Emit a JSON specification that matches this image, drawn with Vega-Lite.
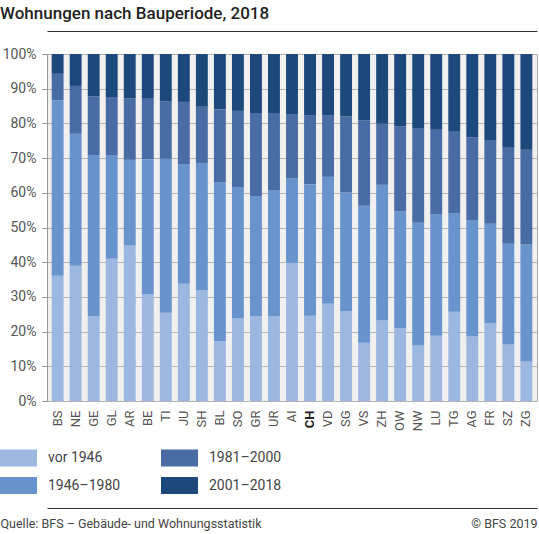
{
  "$schema": "https://vega.github.io/schema/vega-lite/v6.json",
  "autosize": "none",
  "width": 490,
  "height": 347,
  "padding": {"left": 47, "top": 54, "right": 2, "bottom": 133},
  "background": "white",
  "title": {
    "text": "Wohnungen nach Bauperiode, 2018",
    "anchor": "start",
    "frame": "group",
    "dx": -47,
    "offset": 8,
    "font": "Roboto",
    "fontSize": 17,
    "fontWeight": 500,
    "color": "#222222"
  },
  "data": {
    "values": [
      {"Kanton": "BS", "Bauperiode": "vor 1946", "Rang": 1, "Anteil": 36.1},
      {"Kanton": "BS", "Bauperiode": "1946–1980", "Rang": 2, "Anteil": 50.6},
      {"Kanton": "BS", "Bauperiode": "1981–2000", "Rang": 3, "Anteil": 7.6},
      {"Kanton": "BS", "Bauperiode": "2001–2018", "Rang": 4, "Anteil": 5.7},
      {"Kanton": "NE", "Bauperiode": "vor 1946", "Rang": 1, "Anteil": 39.0},
      {"Kanton": "NE", "Bauperiode": "1946–1980", "Rang": 2, "Anteil": 38.0},
      {"Kanton": "NE", "Bauperiode": "1981–2000", "Rang": 3, "Anteil": 13.8},
      {"Kanton": "NE", "Bauperiode": "2001–2018", "Rang": 4, "Anteil": 9.2},
      {"Kanton": "GE", "Bauperiode": "vor 1946", "Rang": 1, "Anteil": 24.5},
      {"Kanton": "GE", "Bauperiode": "1946–1980", "Rang": 2, "Anteil": 46.4},
      {"Kanton": "GE", "Bauperiode": "1981–2000", "Rang": 3, "Anteil": 16.9},
      {"Kanton": "GE", "Bauperiode": "2001–2018", "Rang": 4, "Anteil": 12.2},
      {"Kanton": "GL", "Bauperiode": "vor 1946", "Rang": 1, "Anteil": 41.0},
      {"Kanton": "GL", "Bauperiode": "1946–1980", "Rang": 2, "Anteil": 29.9},
      {"Kanton": "GL", "Bauperiode": "1981–2000", "Rang": 3, "Anteil": 16.7},
      {"Kanton": "GL", "Bauperiode": "2001–2018", "Rang": 4, "Anteil": 12.4},
      {"Kanton": "AR", "Bauperiode": "vor 1946", "Rang": 1, "Anteil": 44.8},
      {"Kanton": "AR", "Bauperiode": "1946–1980", "Rang": 2, "Anteil": 24.7},
      {"Kanton": "AR", "Bauperiode": "1981–2000", "Rang": 3, "Anteil": 17.7},
      {"Kanton": "AR", "Bauperiode": "2001–2018", "Rang": 4, "Anteil": 12.8},
      {"Kanton": "BE", "Bauperiode": "vor 1946", "Rang": 1, "Anteil": 30.8},
      {"Kanton": "BE", "Bauperiode": "1946–1980", "Rang": 2, "Anteil": 38.9},
      {"Kanton": "BE", "Bauperiode": "1981–2000", "Rang": 3, "Anteil": 17.4},
      {"Kanton": "BE", "Bauperiode": "2001–2018", "Rang": 4, "Anteil": 12.9},
      {"Kanton": "TI", "Bauperiode": "vor 1946", "Rang": 1, "Anteil": 25.4},
      {"Kanton": "TI", "Bauperiode": "1946–1980", "Rang": 2, "Anteil": 44.4},
      {"Kanton": "TI", "Bauperiode": "1981–2000", "Rang": 3, "Anteil": 16.6},
      {"Kanton": "TI", "Bauperiode": "2001–2018", "Rang": 4, "Anteil": 13.6},
      {"Kanton": "JU", "Bauperiode": "vor 1946", "Rang": 1, "Anteil": 33.8},
      {"Kanton": "JU", "Bauperiode": "1946–1980", "Rang": 2, "Anteil": 34.5},
      {"Kanton": "JU", "Bauperiode": "1981–2000", "Rang": 3, "Anteil": 17.9},
      {"Kanton": "JU", "Bauperiode": "2001–2018", "Rang": 4, "Anteil": 13.8},
      {"Kanton": "SH", "Bauperiode": "vor 1946", "Rang": 1, "Anteil": 31.9},
      {"Kanton": "SH", "Bauperiode": "1946–1980", "Rang": 2, "Anteil": 36.7},
      {"Kanton": "SH", "Bauperiode": "1981–2000", "Rang": 3, "Anteil": 16.2},
      {"Kanton": "SH", "Bauperiode": "2001–2018", "Rang": 4, "Anteil": 15.2},
      {"Kanton": "BL", "Bauperiode": "vor 1946", "Rang": 1, "Anteil": 17.2},
      {"Kanton": "BL", "Bauperiode": "1946–1980", "Rang": 2, "Anteil": 45.9},
      {"Kanton": "BL", "Bauperiode": "1981–2000", "Rang": 3, "Anteil": 21.0},
      {"Kanton": "BL", "Bauperiode": "2001–2018", "Rang": 4, "Anteil": 15.9},
      {"Kanton": "SO", "Bauperiode": "vor 1946", "Rang": 1, "Anteil": 23.8},
      {"Kanton": "SO", "Bauperiode": "1946–1980", "Rang": 2, "Anteil": 37.9},
      {"Kanton": "SO", "Bauperiode": "1981–2000", "Rang": 3, "Anteil": 21.9},
      {"Kanton": "SO", "Bauperiode": "2001–2018", "Rang": 4, "Anteil": 16.4},
      {"Kanton": "GR", "Bauperiode": "vor 1946", "Rang": 1, "Anteil": 24.4},
      {"Kanton": "GR", "Bauperiode": "1946–1980", "Rang": 2, "Anteil": 34.7},
      {"Kanton": "GR", "Bauperiode": "1981–2000", "Rang": 3, "Anteil": 23.9},
      {"Kanton": "GR", "Bauperiode": "2001–2018", "Rang": 4, "Anteil": 17.0},
      {"Kanton": "UR", "Bauperiode": "vor 1946", "Rang": 1, "Anteil": 24.5},
      {"Kanton": "UR", "Bauperiode": "1946–1980", "Rang": 2, "Anteil": 36.2},
      {"Kanton": "UR", "Bauperiode": "1981–2000", "Rang": 3, "Anteil": 22.3},
      {"Kanton": "UR", "Bauperiode": "2001–2018", "Rang": 4, "Anteil": 17.0},
      {"Kanton": "AI", "Bauperiode": "vor 1946", "Rang": 1, "Anteil": 39.8},
      {"Kanton": "AI", "Bauperiode": "1946–1980", "Rang": 2, "Anteil": 24.3},
      {"Kanton": "AI", "Bauperiode": "1981–2000", "Rang": 3, "Anteil": 18.6},
      {"Kanton": "AI", "Bauperiode": "2001–2018", "Rang": 4, "Anteil": 17.3},
      {"Kanton": "CH", "Bauperiode": "vor 1946", "Rang": 1, "Anteil": 24.6},
      {"Kanton": "CH", "Bauperiode": "1946–1980", "Rang": 2, "Anteil": 37.9},
      {"Kanton": "CH", "Bauperiode": "1981–2000", "Rang": 3, "Anteil": 19.9},
      {"Kanton": "CH", "Bauperiode": "2001–2018", "Rang": 4, "Anteil": 17.6},
      {"Kanton": "VD", "Bauperiode": "vor 1946", "Rang": 1, "Anteil": 28.0},
      {"Kanton": "VD", "Bauperiode": "1946–1980", "Rang": 2, "Anteil": 36.6},
      {"Kanton": "VD", "Bauperiode": "1981–2000", "Rang": 3, "Anteil": 17.8},
      {"Kanton": "VD", "Bauperiode": "2001–2018", "Rang": 4, "Anteil": 17.6},
      {"Kanton": "SG", "Bauperiode": "vor 1946", "Rang": 1, "Anteil": 25.9},
      {"Kanton": "SG", "Bauperiode": "1946–1980", "Rang": 2, "Anteil": 34.2},
      {"Kanton": "SG", "Bauperiode": "1981–2000", "Rang": 3, "Anteil": 21.9},
      {"Kanton": "SG", "Bauperiode": "2001–2018", "Rang": 4, "Anteil": 18.0},
      {"Kanton": "VS", "Bauperiode": "vor 1946", "Rang": 1, "Anteil": 16.8},
      {"Kanton": "VS", "Bauperiode": "1946–1980", "Rang": 2, "Anteil": 39.5},
      {"Kanton": "VS", "Bauperiode": "1981–2000", "Rang": 3, "Anteil": 24.6},
      {"Kanton": "VS", "Bauperiode": "2001–2018", "Rang": 4, "Anteil": 19.1},
      {"Kanton": "ZH", "Bauperiode": "vor 1946", "Rang": 1, "Anteil": 23.2},
      {"Kanton": "ZH", "Bauperiode": "1946–1980", "Rang": 2, "Anteil": 39.1},
      {"Kanton": "ZH", "Bauperiode": "1981–2000", "Rang": 3, "Anteil": 17.6},
      {"Kanton": "ZH", "Bauperiode": "2001–2018", "Rang": 4, "Anteil": 20.1},
      {"Kanton": "OW", "Bauperiode": "vor 1946", "Rang": 1, "Anteil": 21.0},
      {"Kanton": "OW", "Bauperiode": "1946–1980", "Rang": 2, "Anteil": 33.7},
      {"Kanton": "OW", "Bauperiode": "1981–2000", "Rang": 3, "Anteil": 24.4},
      {"Kanton": "OW", "Bauperiode": "2001–2018", "Rang": 4, "Anteil": 20.9},
      {"Kanton": "NW", "Bauperiode": "vor 1946", "Rang": 1, "Anteil": 16.0},
      {"Kanton": "NW", "Bauperiode": "1946–1980", "Rang": 2, "Anteil": 35.4},
      {"Kanton": "NW", "Bauperiode": "1981–2000", "Rang": 3, "Anteil": 27.3},
      {"Kanton": "NW", "Bauperiode": "2001–2018", "Rang": 4, "Anteil": 21.3},
      {"Kanton": "LU", "Bauperiode": "vor 1946", "Rang": 1, "Anteil": 18.8},
      {"Kanton": "LU", "Bauperiode": "1946–1980", "Rang": 2, "Anteil": 35.1},
      {"Kanton": "LU", "Bauperiode": "1981–2000", "Rang": 3, "Anteil": 24.3},
      {"Kanton": "LU", "Bauperiode": "2001–2018", "Rang": 4, "Anteil": 21.8},
      {"Kanton": "TG", "Bauperiode": "vor 1946", "Rang": 1, "Anteil": 25.7},
      {"Kanton": "TG", "Bauperiode": "1946–1980", "Rang": 2, "Anteil": 28.4},
      {"Kanton": "TG", "Bauperiode": "1981–2000", "Rang": 3, "Anteil": 23.5},
      {"Kanton": "TG", "Bauperiode": "2001–2018", "Rang": 4, "Anteil": 22.4},
      {"Kanton": "AG", "Bauperiode": "vor 1946", "Rang": 1, "Anteil": 18.6},
      {"Kanton": "AG", "Bauperiode": "1946–1980", "Rang": 2, "Anteil": 33.4},
      {"Kanton": "AG", "Bauperiode": "1981–2000", "Rang": 3, "Anteil": 24.0},
      {"Kanton": "AG", "Bauperiode": "2001–2018", "Rang": 4, "Anteil": 24.0},
      {"Kanton": "FR", "Bauperiode": "vor 1946", "Rang": 1, "Anteil": 22.5},
      {"Kanton": "FR", "Bauperiode": "1946–1980", "Rang": 2, "Anteil": 28.6},
      {"Kanton": "FR", "Bauperiode": "1981–2000", "Rang": 3, "Anteil": 24.1},
      {"Kanton": "FR", "Bauperiode": "2001–2018", "Rang": 4, "Anteil": 24.8},
      {"Kanton": "SZ", "Bauperiode": "vor 1946", "Rang": 1, "Anteil": 16.3},
      {"Kanton": "SZ", "Bauperiode": "1946–1980", "Rang": 2, "Anteil": 29.0},
      {"Kanton": "SZ", "Bauperiode": "1981–2000", "Rang": 3, "Anteil": 27.7},
      {"Kanton": "SZ", "Bauperiode": "2001–2018", "Rang": 4, "Anteil": 27.0},
      {"Kanton": "ZG", "Bauperiode": "vor 1946", "Rang": 1, "Anteil": 11.4},
      {"Kanton": "ZG", "Bauperiode": "1946–1980", "Rang": 2, "Anteil": 33.7},
      {"Kanton": "ZG", "Bauperiode": "1981–2000", "Rang": 3, "Anteil": 27.3},
      {"Kanton": "ZG", "Bauperiode": "2001–2018", "Rang": 4, "Anteil": 27.6}
    ]
  },
  "layer": [
    {
      "mark": {"type": "bar"},
      "encoding": {
        "x": {
          "field": "Kanton",
          "type": "nominal",
          "sort": null,
          "scale": {"paddingInner": 0.34, "paddingOuter": 0.26},
          "axis": {
            "orient": "bottom",
            "title": null,
            "labelAngle": -90,
            "labelPadding": 9,
            "ticks": false,
            "domain": false,
            "labelFont": "Roboto",
            "labelFontSize": 13,
            "labelColor": {"condition": {"test": "datum.value === 'CH'", "value": "#222222"}, "value": "#555555"},
            "labelFontWeight": {"condition": {"test": "datum.value === 'CH'", "value": "bold"}, "value": "normal"}
          }
        },
        "y": {
          "field": "Anteil",
          "type": "quantitative",
          "stack": true,
          "scale": {"domain": [0, 100]},
          "axis": {
            "values": [0, 10, 20, 30, 40, 50, 60, 70, 80, 90, 100],
            "labelExpr": "datum.value + '%'",
            "title": "© BFS 2019",
            "titleAngle": 0,
            "titleAlign": "right",
            "titleBaseline": "alphabetic",
            "titleX": 490,
            "titleY": 473,
            "titleFont": "Roboto",
            "titleFontSize": 12.5,
            "titleFontWeight": "normal",
            "titleColor": "#444444",
            "labelFont": "Roboto",
            "labelFontSize": 14,
            "labelColor": "#555555",
            "labelPadding": 6,
            "tickSize": 5,
            "tickColor": "#999999",
            "domainColor": "#999999",
            "gridColor": "#b5b5b5"
          }
        },
        "color": {
          "field": "Bauperiode",
          "type": "nominal",
          "scale": {
            "domain": ["vor 1946", "1946–1980", "1981–2000", "2001–2018"],
            "range": ["#9cb7e0", "#6893cd", "#4a6ca4", "#1c487c"]
          },
          "legend": {
            "orient": "none",
            "legendX": -47,
            "legendY": 385,
            "columns": 2,
            "title": null,
            "symbolType": "M-1,-0.46H1V0.46H-1Z",
            "symbolSize": 1369,
            "symbolStrokeWidth": 0,
            "symbolOpacity": 1,
            "labelFont": "Roboto",
            "labelFontSize": 14,
            "labelColor": "#444444",
            "labelOffset": 11,
            "columnPadding": 40,
            "rowPadding": -5,
            "padding": 0
          }
        },
        "order": {"field": "Rang", "type": "quantitative"}
      }
    },
    {
      "mark": {"type": "bar", "opacity": 0},
      "encoding": {
        "x": {
          "field": "Kanton",
          "type": "nominal",
          "sort": null,
          "axis": {
            "orient": "bottom",
            "offset": 107,
            "labels": false,
            "ticks": false,
            "grid": false,
            "domain": true,
            "domainColor": "#333333",
            "domainWidth": 1,
            "title": "Quelle: BFS – Gebäude- und Wohnungsstatistik",
            "titleAnchor": null,
            "titleAlign": "left",
            "titleBaseline": "alphabetic",
            "titleX": -47,
            "titleY": 19,
            "titleFont": "Roboto",
            "titleFontSize": 12.5,
            "titleFontWeight": "normal",
            "titleColor": "#444444"
          }
        }
      }
    },
    {
      "mark": {"type": "bar", "opacity": 0},
      "encoding": {
        "x": {
          "field": "Kanton",
          "type": "nominal",
          "sort": null,
          "axis": {
            "orient": "top",
            "offset": 23,
            "labels": false,
            "ticks": false,
            "grid": false,
            "domain": true,
            "domainColor": "#333333",
            "domainWidth": 1,
            "title": null
          }
        }
      }
    }
  ],
  "resolve": {"axis": {"x": "independent"}},
  "config": {
    "view": {"fill": "#f0f0f0", "stroke": "#aaaaaa"},
    "axis": {"gridColor": "#b5b5b5", "gridOpacity": 1}
  }
}
